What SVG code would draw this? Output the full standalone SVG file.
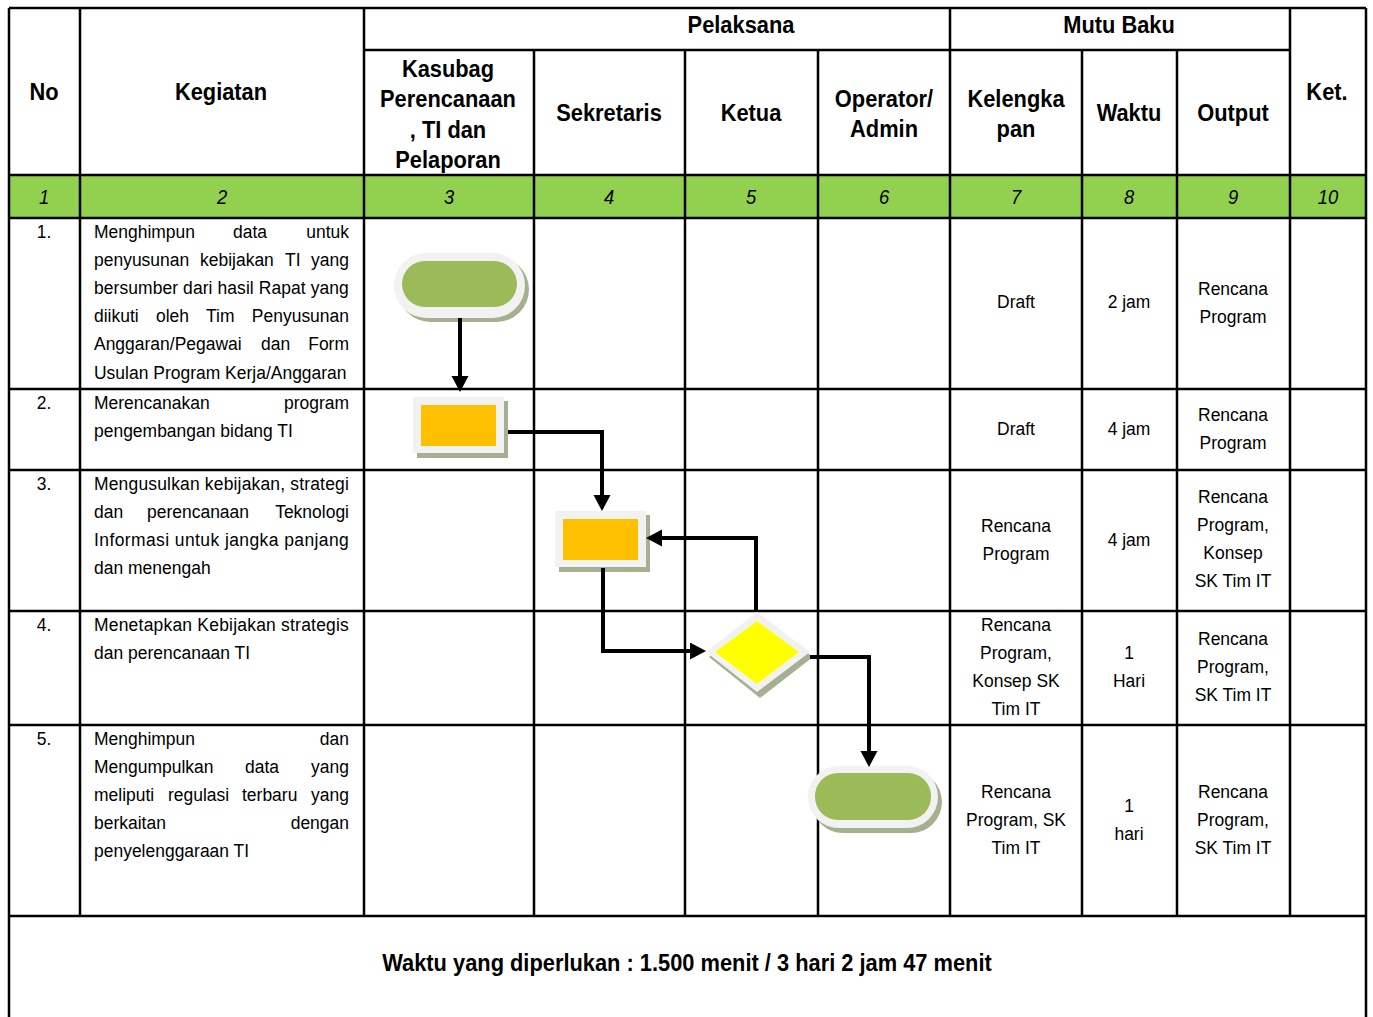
<svg xmlns="http://www.w3.org/2000/svg" width="1373" height="1017" viewBox="0 0 1373 1017">
<style>
text{font-family:"Liberation Sans",Arial,sans-serif;fill:#000}
.t{font-size:19px}
.c{text-anchor:middle}
.e{text-anchor:end}
.h{font-size:24px;font-weight:bold;text-anchor:middle}
.n{font-size:20px;font-style:italic;text-anchor:middle}
.grid{stroke:#000;stroke-width:2.5;fill:none}
.conn{stroke:#000;stroke-width:4;fill:none;stroke-linejoin:miter}
.shadow{fill:#A6AF8F}
.light{fill:#F2F2F2}
.green{fill:#9BBB59}
.orange{fill:#FFC000}
.yellow{fill:#FFFF00}
</style>
<defs>
<marker id="ah" markerUnits="userSpaceOnUse" markerWidth="18" markerHeight="18" refX="8" refY="8.5" orient="auto">
<path d="M0,0 L16,8.5 L0,17 z" fill="#000"/>
</marker>
</defs>
<rect width="1373" height="1017" fill="#fff"/>
<rect x="9" y="175" width="1357" height="43" fill="#92D050"/>
<g id="grid" class="grid">
<path d="M9,8 H1366 M364,50 H1290 M9,175 H1366 M9,218 H1366 M9,389 H1366 M9,470 H1366 M9,611 H1366 M9,725 H1366 M9,916 H1366"/>
<path d="M9,8 V1017 M1366,8 V1017 M80,8 V916 M364,8 V916 M534,50 V916 M685,50 V916 M818,50 V916 M950,8 V916 M1082,50 V916 M1177,50 V916 M1290,8 V916"/>
</g>
<g id="header">
<text class="h" transform="translate(44,100) scale(.91,1)">No</text>
<text class="h" transform="translate(221,100) scale(.91,1)">Kegiatan</text>
<text class="h" transform="translate(741,33) scale(.91,1)">Pelaksana</text>
<text class="h" transform="translate(1119,33) scale(.91,1)">Mutu Baku</text>
<text class="h" transform="translate(1327,100) scale(.91,1)">Ket.</text>
<text class="h" transform="translate(448,77) scale(.91,1)">Kasubag</text>
<text class="h" transform="translate(448,107) scale(.91,1)">Perencanaan</text>
<text class="h" transform="translate(448,138) scale(.91,1)">, TI dan</text>
<text class="h" transform="translate(448,168) scale(.91,1)">Pelaporan</text>
<text class="h" transform="translate(609,121) scale(.91,1)">Sekretaris</text>
<text class="h" transform="translate(751,121) scale(.91,1)">Ketua</text>
<text class="h" transform="translate(884,107) scale(.91,1)">Operator/</text>
<text class="h" transform="translate(884,137) scale(.91,1)">Admin</text>
<text class="h" transform="translate(1016,107) scale(.91,1)">Kelengka</text>
<text class="h" transform="translate(1016,137) scale(.91,1)">pan</text>
<text class="h" transform="translate(1129,121) scale(.91,1)">Waktu</text>
<text class="h" transform="translate(1233,121) scale(.91,1)">Output</text>
</g>
<g id="colnums">
<text class="n" transform="translate(44,204) scale(.92,1)">1</text>
<text class="n" transform="translate(222,204) scale(.92,1)">2</text>
<text class="n" transform="translate(449,204) scale(.92,1)">3</text>
<text class="n" transform="translate(609,204) scale(.92,1)">4</text>
<text class="n" transform="translate(751,204) scale(.92,1)">5</text>
<text class="n" transform="translate(884,204) scale(.92,1)">6</text>
<text class="n" transform="translate(1016,204) scale(.92,1)">7</text>
<text class="n" transform="translate(1129,204) scale(.92,1)">8</text>
<text class="n" transform="translate(1233,204) scale(.92,1)">9</text>
<text class="n" transform="translate(1328,204) scale(.92,1)">10</text>
</g>
<g id="row1">
<text class="t c" transform="translate(44,238) scale(.92,1)">1.</text>
<text class="t" transform="translate(94,238) scale(.92,1)">Menghimpun</text>
<text class="t" transform="translate(233,238) scale(.92,1)">data</text>
<text class="t e" transform="translate(349,238) scale(.92,1)">untuk</text>
<text class="t" transform="translate(94,266) scale(.92,1)">penyusunan</text>
<text class="t" transform="translate(200,266) scale(.92,1)">kebijakan</text>
<text class="t" transform="translate(285,266) scale(.92,1)">TI</text>
<text class="t e" transform="translate(349,266) scale(.92,1)">yang</text>
<text class="t" transform="translate(94,294) scale(.92,1)" textLength="277" lengthAdjust="spacing">bersumber dari hasil Rapat yang</text>
<text class="t" transform="translate(94,322) scale(.92,1)">diikuti</text>
<text class="t" transform="translate(156,322) scale(.92,1)">oleh</text>
<text class="t" transform="translate(206,322) scale(.92,1)">Tim</text>
<text class="t e" transform="translate(349,322) scale(.92,1)">Penyusunan</text>
<text class="t" transform="translate(94,350) scale(.92,1)">Anggaran/Pegawai</text>
<text class="t" transform="translate(261,350) scale(.92,1)">dan</text>
<text class="t e" transform="translate(349,350) scale(.92,1)">Form</text>
<text class="t" transform="translate(94,379) scale(.92,1)">Usulan Program Kerja/Anggaran</text>
<text class="t c" transform="translate(1016,308) scale(.92,1)">Draft</text>
<text class="t c" transform="translate(1129,308) scale(.92,1)">2 jam</text>
<text class="t c" transform="translate(1233,295) scale(.92,1)">Rencana</text>
<text class="t c" transform="translate(1233,323) scale(.92,1)">Program</text>
</g>
<g id="row2">
<text class="t c" transform="translate(44,409) scale(.92,1)">2.</text>
<text class="t" transform="translate(94,409) scale(.92,1)">Merencanakan</text>
<text class="t e" transform="translate(349,409) scale(.92,1)">program</text>
<text class="t" transform="translate(94,437) scale(.92,1)">pengembangan bidang TI</text>
<text class="t c" transform="translate(1016,435) scale(.92,1)">Draft</text>
<text class="t c" transform="translate(1129,435) scale(.92,1)">4 jam</text>
<text class="t c" transform="translate(1233,421) scale(.92,1)">Rencana</text>
<text class="t c" transform="translate(1233,449) scale(.92,1)">Program</text>
</g>
<g id="row3">
<text class="t c" transform="translate(44,490) scale(.92,1)">3.</text>
<text class="t" transform="translate(94,490) scale(.92,1)" textLength="277" lengthAdjust="spacing">Mengusulkan kebijakan, strategi</text>
<text class="t" transform="translate(94,518) scale(.92,1)">dan</text>
<text class="t" transform="translate(147,518) scale(.92,1)">perencanaan</text>
<text class="t e" transform="translate(349,518) scale(.92,1)">Teknologi</text>
<text class="t" transform="translate(94,546) scale(.92,1)" textLength="277" lengthAdjust="spacing">Informasi untuk jangka panjang</text>
<text class="t" transform="translate(94,574) scale(.92,1)">dan menengah</text>
<text class="t c" transform="translate(1016,532) scale(.92,1)">Rencana</text>
<text class="t c" transform="translate(1016,560) scale(.92,1)">Program</text>
<text class="t c" transform="translate(1129,546) scale(.92,1)">4 jam</text>
<text class="t c" transform="translate(1233,503) scale(.92,1)">Rencana</text>
<text class="t c" transform="translate(1233,531) scale(.92,1)">Program,</text>
<text class="t c" transform="translate(1233,559) scale(.92,1)">Konsep</text>
<text class="t c" transform="translate(1233,587) scale(.92,1)">SK Tim IT</text>
</g>
<g id="row4">
<text class="t c" transform="translate(44,631) scale(.92,1)">4.</text>
<text class="t" transform="translate(94,631) scale(.92,1)" textLength="277" lengthAdjust="spacing">Menetapkan Kebijakan strategis</text>
<text class="t" transform="translate(94,659) scale(.92,1)">dan perencanaan TI</text>
<text class="t c" transform="translate(1016,631) scale(.92,1)">Rencana</text>
<text class="t c" transform="translate(1016,659) scale(.92,1)">Program,</text>
<text class="t c" transform="translate(1016,687) scale(.92,1)">Konsep SK</text>
<text class="t c" transform="translate(1016,715) scale(.92,1)">Tim IT</text>
<text class="t c" transform="translate(1129,659) scale(.92,1)">1</text>
<text class="t c" transform="translate(1129,687) scale(.92,1)">Hari</text>
<text class="t c" transform="translate(1233,645) scale(.92,1)">Rencana</text>
<text class="t c" transform="translate(1233,673) scale(.92,1)">Program,</text>
<text class="t c" transform="translate(1233,701) scale(.92,1)">SK Tim IT</text>
</g>
<g id="row5">
<text class="t c" transform="translate(44,745) scale(.92,1)">5.</text>
<text class="t" transform="translate(94,745) scale(.92,1)">Menghimpun</text>
<text class="t e" transform="translate(349,745) scale(.92,1)">dan</text>
<text class="t" transform="translate(94,773) scale(.92,1)">Mengumpulkan</text>
<text class="t" transform="translate(245,773) scale(.92,1)">data</text>
<text class="t e" transform="translate(349,773) scale(.92,1)">yang</text>
<text class="t" transform="translate(94,801) scale(.92,1)">meliputi</text>
<text class="t" transform="translate(168,801) scale(.92,1)">regulasi</text>
<text class="t" transform="translate(242,801) scale(.92,1)">terbaru</text>
<text class="t e" transform="translate(349,801) scale(.92,1)">yang</text>
<text class="t" transform="translate(94,829) scale(.92,1)">berkaitan</text>
<text class="t e" transform="translate(349,829) scale(.92,1)">dengan</text>
<text class="t" transform="translate(94,857) scale(.92,1)">penyelenggaraan TI</text>
<text class="t c" transform="translate(1016,798) scale(.92,1)">Rencana</text>
<text class="t c" transform="translate(1016,826) scale(.92,1)">Program, SK</text>
<text class="t c" transform="translate(1016,854) scale(.92,1)">Tim IT</text>
<text class="t c" transform="translate(1129,812) scale(.92,1)">1</text>
<text class="t c" transform="translate(1129,840) scale(.92,1)">hari</text>
<text class="t c" transform="translate(1233,798) scale(.92,1)">Rencana</text>
<text class="t c" transform="translate(1233,826) scale(.92,1)">Program,</text>
<text class="t c" transform="translate(1233,854) scale(.92,1)">SK Tim IT</text>
</g>
<g id="footer">
<text class="h" transform="translate(687,971) scale(.91,1)">Waktu yang diperlukan : 1.500 menit / 3 hari 2 jam 47 menit</text>
</g>
<g id="node-start">
<rect class="shadow" x="398" y="257" width="131" height="65" rx="32.5"/>
<rect class="light" x="394" y="253" width="131" height="65" rx="32.5"/>
<rect class="green" x="402" y="261" width="115" height="46" rx="23"/>
</g>
<g id="node-step2">
<rect class="shadow" x="417" y="401" width="91" height="57"/>
<rect class="light" x="413" y="397" width="91" height="56"/>
<rect class="orange" x="421" y="405" width="75" height="41"/>
</g>
<g id="node-step3">
<rect class="shadow" x="559" y="515" width="91" height="57"/>
<rect class="light" x="555" y="511" width="91" height="56"/>
<rect class="orange" x="563" y="519" width="75" height="41"/>
</g>
<g id="node-decision">
<polygon class="shadow" points="709,657 760,617 813,657 760,698"/>
<polygon class="light" points="706,652 757,612 810,652 757,692"/>
<polygon class="yellow" points="715,652 757,621 799,652 757,684"/>
</g>
<g id="node-end">
<rect class="shadow" x="812" y="771" width="130" height="62" rx="31"/>
<rect class="light" x="808" y="766" width="130" height="62" rx="31"/>
<rect class="green" x="815" y="773" width="116" height="47" rx="23"/>
</g>
<g id="connectors" class="conn">
<path d="M460,318 V384" marker-end="url(#ah)"/>
<path d="M508,432 H602 V503" marker-end="url(#ah)"/>
<path d="M756,612 V538 H654" marker-end="url(#ah)"/>
<path d="M603,568 V651 H698" marker-end="url(#ah)"/>
<path d="M810,657 H869 V759" marker-end="url(#ah)"/>
</g>
</svg>
